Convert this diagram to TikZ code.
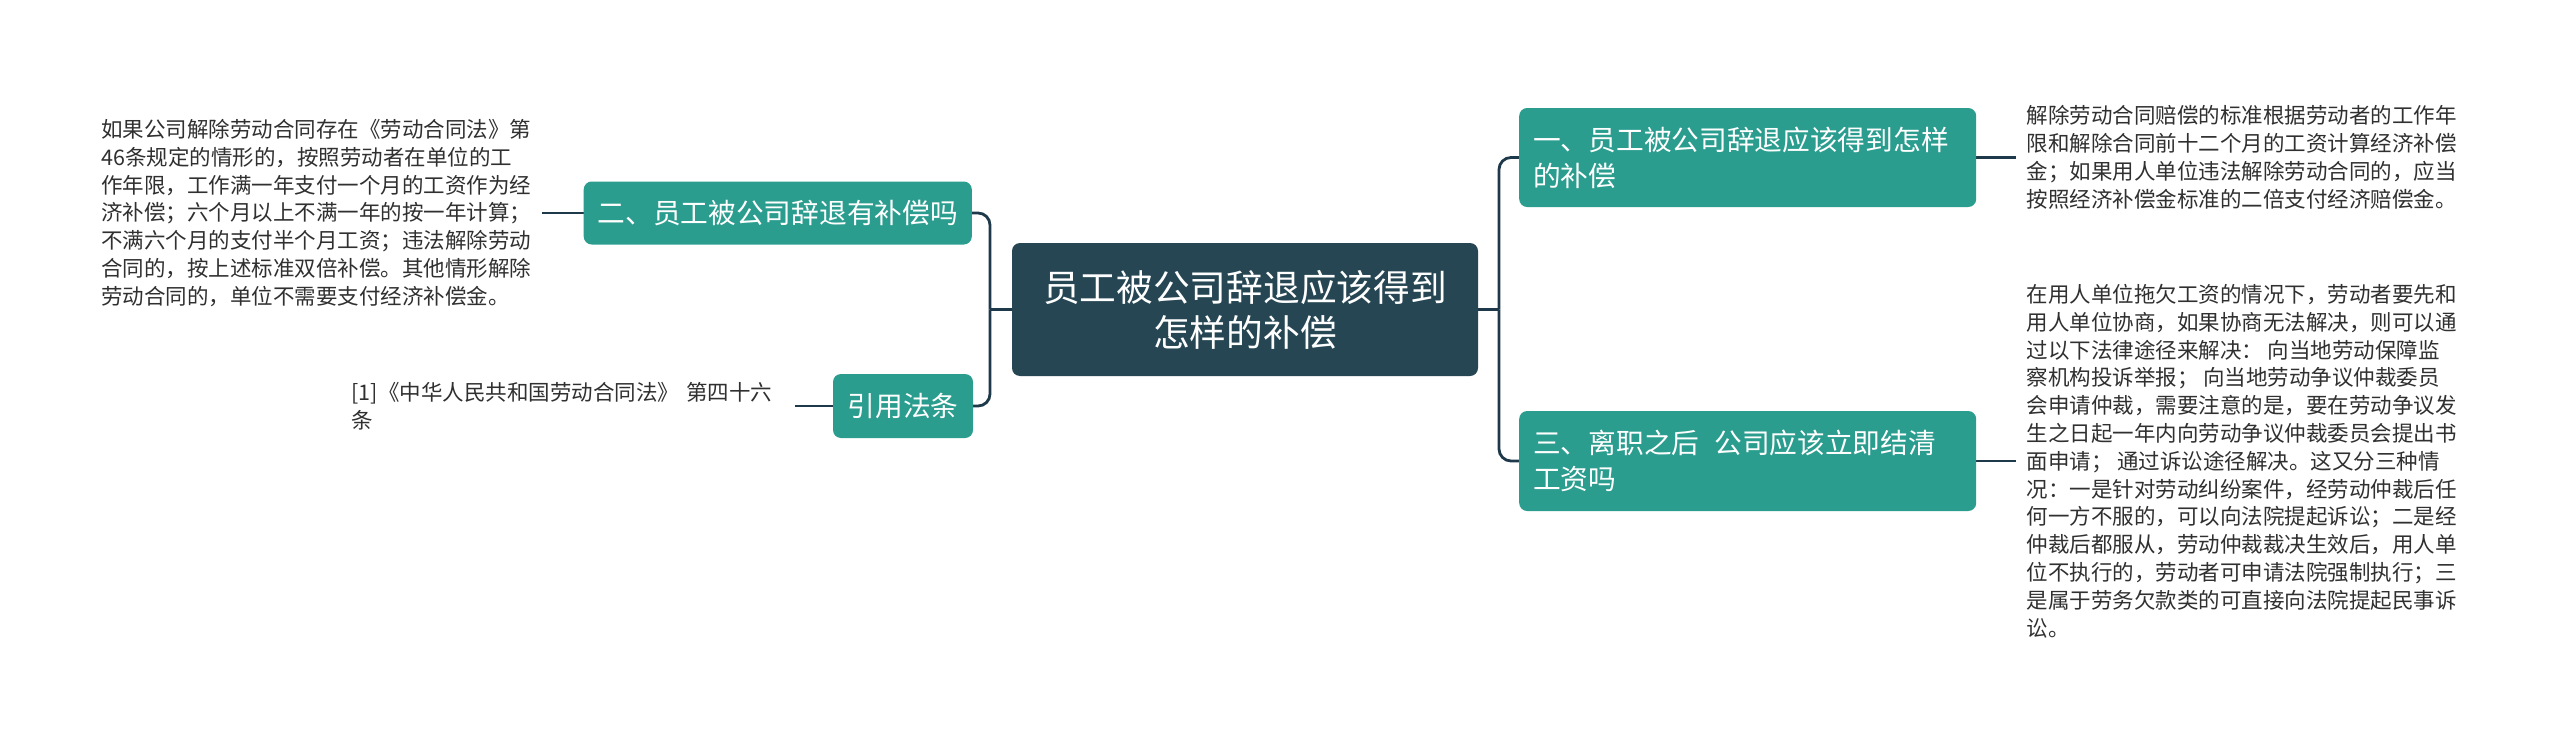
\documentclass[tikz,border=0pt]{standalone}
\usepackage{fontspec}
\newfontfamily\cjk{Noto Sans CJK SC}
\usetikzlibrary{backgrounds}
\definecolor{rootc}{HTML}{264653}
\definecolor{branchc}{HTML}{2A9D8F}
\definecolor{linec}{HTML}{1E3A4A}
\definecolor{txtc}{HTML}{303030}
\tikzset{
  rootbox/.style={fill=rootc, text=white, rounded corners=8pt, font={\cjk\fontsize{36.7}{45}\selectfont}, align=center, minimum width=466pt, minimum height=133pt, inner sep=0pt},
  branchbox/.style={fill=branchc, text=white, rounded corners=8pt, font={\cjk\fontsize{27.7}{36}\selectfont}, align=left, inner xsep=14pt, inner ysep=0pt},
  leaftext/.style={text=txtc, font={\cjk\fontsize{21.5}{27.8}\selectfont}, align=left, inner xsep=10pt, inner ysep=0pt},
  link/.style={draw=linec, line width=2.8pt, rounded corners=12pt},
}
\begin{document}
\begin{tikzpicture}[x=1pt,y=-1pt]
\useasboundingbox (0,0) rectangle (2560,744);
\node[rootbox] (root) at (1245,309.5) {员工被公司辞退应该得到\\怎样的补偿};
\node[branchbox, anchor=west, text width=429pt, minimum height=99pt] (n1) at (1519,157.5) {一、员工被公司辞退应该得到怎样\\的补偿};
\node[branchbox, anchor=west, text width=429pt, minimum height=100pt] (n3) at (1519,461) {三、离职之后\hspace{15pt}公司应该立即结清\\工资吗};
\node[branchbox, anchor=east, minimum width=387pt, minimum height=63pt] (n2) at (972,213) {二、员工被公司辞退有补偿吗};
\node[branchbox, minimum width=140pt, minimum height=64pt] (n4) at (903,406) {引用法条};
\node[leaftext, anchor=west] (t1) at ([xshift=40pt]n1.east) {解除劳动合同赔偿的标准根据劳动者的工作年\\%
限和解除合同前十二个月的工资计算经济补偿\\%
金；如果用人单位违法解除劳动合同的，应当\\%
按照经济补偿金标准的二倍支付经济赔偿金。};
\node[leaftext, anchor=west] (t3) at ([xshift=40pt]n3.east) {在用人单位拖欠工资的情况下，劳动者要先和\\%
用人单位协商，如果协商无法解决，则可以通\\%
过以下法律途径来解决： 向当地劳动保障监\\%
察机构投诉举报； 向当地劳动争议仲裁委员\\%
会申请仲裁，需要注意的是，要在劳动争议发\\%
生之日起一年内向劳动争议仲裁委员会提出书\\%
面申请； 通过诉讼途径解决。这又分三种情\\%
况：一是针对劳动纠纷案件，经劳动仲裁后任\\%
何一方不服的，可以向法院提起诉讼；二是经\\%
仲裁后都服从，劳动仲裁裁决生效后，用人单\\%
位不执行的，劳动者可申请法院强制执行；三\\%
是属于劳务欠款类的可直接向法院提起民事诉\\%
讼。};
\node[leaftext, anchor=east] (t2) at ([xshift=-42pt]n2.west) {如果公司解除劳动合同存在《劳动合同法》第\\%
46条规定的情形的，按照劳动者在单位的工\\%
作年限，工作满一年支付一个月的工资作为经\\%
济补偿；六个月以上不满一年的按一年计算；\\%
不满六个月的支付半个月工资；违法解除劳动\\%
合同的，按上述标准双倍补偿。其他情形解除\\%
劳动合同的，单位不需要支付经济补偿金。};
\node[leaftext, anchor=east, text width=433pt] (t4) at ([xshift=-38pt]n4.west) {{[1]}《中华人民共和国劳动合同法》 第四十六\\%
条};
\begin{scope}[on background layer]
\fill[white] (0,0) rectangle (2560,744);
\coordinate (rj) at (1499,309.5);
\coordinate (lj) at (990,309.5);
\draw[link] (root.east) -- (rj);
\draw[link] (rj) |- (n1.west);
\draw[link] (rj) |- (n3.west);
\draw[link] (root.west) -- (lj);
\draw[link] (lj) |- (n2.east);
\draw[link] (lj) |- (n4.east);
\draw[link] (n1.east) -- (t1.west);
\draw[link] (n3.east) -- (t3.west);
\draw[link] (n2.west) -- (t2.east);
\draw[link] (n4.west) -- (t4.east);
\end{scope}
\end{tikzpicture}
\end{document}
